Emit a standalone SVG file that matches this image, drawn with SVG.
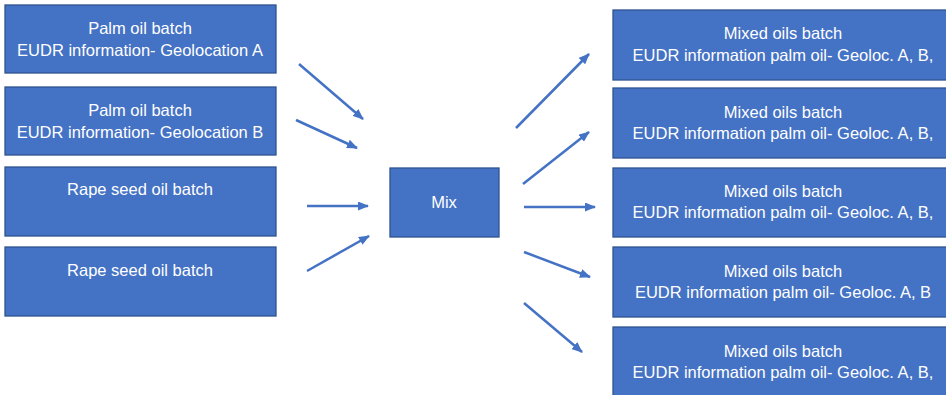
<svg xmlns="http://www.w3.org/2000/svg" width="946" height="395" viewBox="0 0 946 395">
<style>
.box{fill:#4472C4;stroke:#2F528F;stroke-width:1.3}
.t{font-family:"Liberation Sans",Arial,sans-serif;font-size:16.5px;fill:#ffffff;text-anchor:middle}
.c{stroke:#4472C4;stroke-width:2.5;fill:none;marker-end:url(#ah)}
</style>
<defs>
<marker id="ah" markerUnits="userSpaceOnUse" markerWidth="11" markerHeight="9" refX="10" refY="4.5" orient="auto">
<path d="M0,0 L11,4.5 L0,9 z" fill="#4472C4"/>
</marker>
</defs>
<rect width="946" height="395" fill="#ffffff"/>
<g id="palmA"><rect class="box" x="5" y="5" width="271" height="68"/><text class="t" x="140" y="34">Palm oil batch</text><text class="t" x="140" y="56">EUDR information- Geolocation A</text></g>
<g id="palmB"><rect class="box" x="5" y="87" width="271" height="68"/><text class="t" x="140" y="116">Palm oil batch</text><text class="t" x="140" y="138">EUDR information- Geolocation B</text></g>
<g id="rape1"><rect class="box" x="5" y="167" width="271" height="69"/><text class="t" x="140" y="195">Rape seed oil batch</text></g>
<g id="rape2"><rect class="box" x="5" y="247" width="271" height="69"/><text class="t" x="140" y="276">Rape seed oil batch</text></g>
<g id="mix"><rect class="box" x="390" y="168" width="109" height="69"/><text class="t" x="444" y="208">Mix</text></g>
<g id="out1"><rect class="box" x="613" y="10" width="340" height="70"/><text class="t" x="783" y="39">Mixed oils batch</text><text class="t" x="783" y="61">EUDR information palm oil- Geoloc. A, B,</text></g>
<g id="out2"><rect class="box" x="613" y="88" width="340" height="70"/><text class="t" x="783" y="118">Mixed oils batch</text><text class="t" x="783" y="139">EUDR information palm oil- Geoloc. A, B,</text></g>
<g id="out3"><rect class="box" x="613" y="168" width="340" height="69"/><text class="t" x="783" y="197">Mixed oils batch</text><text class="t" x="783" y="218">EUDR information palm oil- Geoloc. A, B,</text></g>
<g id="out4"><rect class="box" x="613" y="247" width="340" height="70"/><text class="t" x="783" y="277">Mixed oils batch</text><text class="t" x="783" y="298">EUDR information palm oil- Geoloc. A, B</text></g>
<g id="out5"><rect class="box" x="613" y="327" width="340" height="80"/><text class="t" x="783" y="357">Mixed oils batch</text><text class="t" x="783" y="378">EUDR information palm oil- Geoloc. A, B,</text></g>
<g id="connectors">
<line class="c" x1="299" y1="64" x2="363" y2="119"/>
<line class="c" x1="296" y1="120" x2="357" y2="148"/>
<line class="c" x1="307" y1="206" x2="368" y2="206"/>
<line class="c" x1="307" y1="271" x2="369" y2="236"/>
<line class="c" x1="516" y1="128" x2="589" y2="54"/>
<line class="c" x1="523" y1="184" x2="589" y2="132"/>
<line class="c" x1="524" y1="207" x2="595" y2="207"/>
<line class="c" x1="524" y1="252" x2="590" y2="277"/>
<line class="c" x1="524" y1="303" x2="582" y2="352"/>
</g>
</svg>
